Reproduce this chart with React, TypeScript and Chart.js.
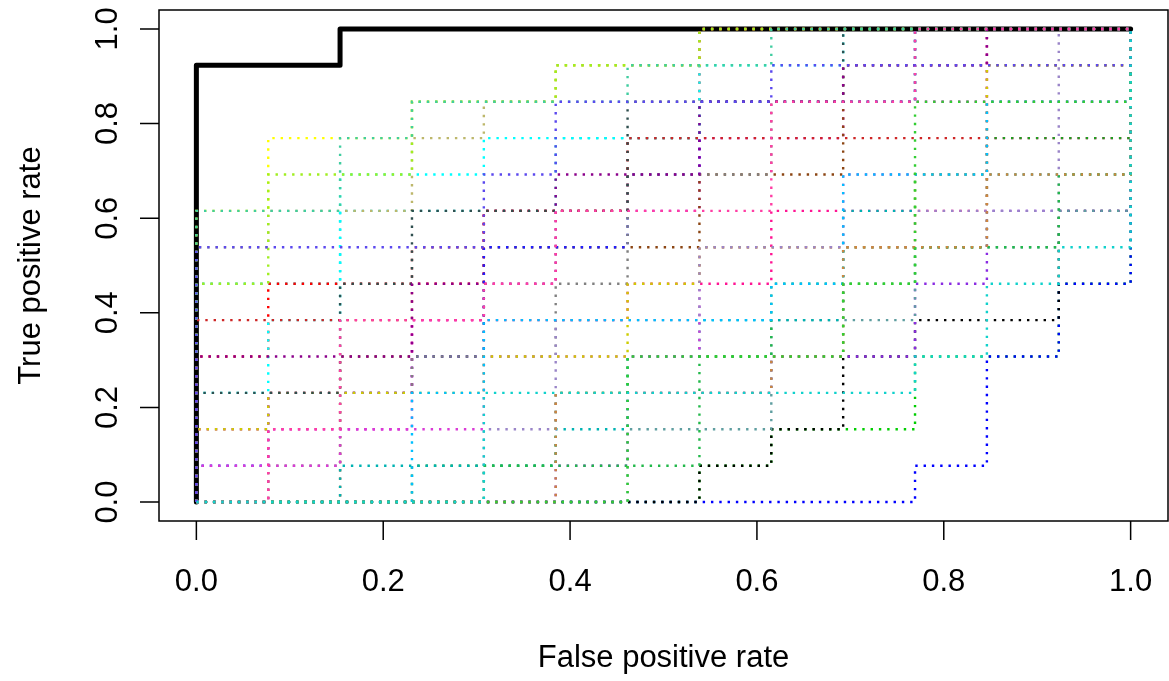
import React, { useEffect, useRef } from "react";
import { Chart, registerables } from "chart.js";

Chart.register(...registerables);

// Number of negatives / positives (grid of the ROC staircase)
const N_NEG = 13;
const N_POS = 13;

// Random-permutation ROC curves, each written as run-length steps:
// R = next negative (false positive), U = next positive (true positive)
const rocSteps: string[] = [
  "R7U1R1U1R2U2R2U2R1U7",
  "R10U1R1U3R1U2R1U7",
  "U8R1U2R2U1R2U1R2U1R6",
  "U6R2U2R3U2R2U1R3U2R3",
  "U2R3U3R1U3R3U2R2U1R4U2",
  "R2U4R2U3R3U2R2U3R4U1",
  "U4R1U2R3U2R2U2R1U3R6",
  "R7U1R1U1R1U2R1U1R2U3R1U5",
  "U1R1U2R2U1R1U3R2U2R1U2R3U2R3",
  "R1U3R2U2R3U1R2U2R3U2R2U3",
  "R3U1R2U2R1U1R3U3R2U3R2U3",
  "R5U1R1U2R2U1R2U2R1U2R2U5",
  "R6U2R2U3R2U2R2U1R1U5",
  "U7R1U1R2U2R1U1R1U1R2U1R6",
  "U3R1U2R1U4R2U1R3U2R2U1R4",
  "U5R3U2R1U1R2U2R5U3R2",
  "R1U1R1U2R1U1R2U2R1U3R2U2R2U2R3",
  "R2U1R3U1R1U2R1U1R2U3R1U1R3U4",
  "U1R2U1R2U2R3U3R2U2R2U4R2",
  "U2R1U1R3U1R2U2R1U1R3U2R1U3R2U1",
  "R4U2R1U3R2U2R3U1R2U5R1",
  "R4U1R3U3R1U2R2U1R2U2R1U4",
  "R3U3R1U2R4U1R1U3R2U2R2U2",
  "U3R2U3R1U2R3U3R3U2R4",
  "U6R1U3R2U2R2U1R2U1R6",
  "R5U3R3U1R1U3R2U2R2U4",
  "U8R2U2R1U1R3U1R2U1R5",
  "U4R3U2R2U3R2U2R2U1R2U1R2",
  "R6U4R3U2R1U5R3U2",
  "R1U2R1U3R2U1R1U2R3U3R2U2R3",
  "U7R4U2R1U2R3U1R5U1",
  "R4U3R6U1R1U2R1U1R1U6",
];

const rocColors: string[] = [
  "#00CD00", "#0000FF", "#FFFF00", "#00CDCD", "#CD00CD", "#8B4513",
  "#FF0000", "#000000", "#1E1EFF", "#FF1493", "#1E9E1E", "#8A2BE2",
  "#5F9EA0", "#BDB76B", "#00FFFF", "#CD2626", "#808080", "#00B2B2",
  "#DA3AD6", "#CDCD00", "#9A85C8", "#22B84A", "#00BFFF", "#2F4F4F",
  "#A0EE20", "#CD853F", "#40CDA0", "#8B008B", "#32CD32", "#FF3EA4",
  "#5B48EE", "#10D1CC",
];

// The bold (best) ROC curve
const bestFpr: number[] = [0, 0, 0.1538, 0.1538, 1];
const bestTpr: number[] = [0, 0.9231, 0.9231, 1, 1];

const xTickValues: number[] = [0, 0.2, 0.4, 0.6, 0.8, 1.0];
const xTickLabels: string[] = ["0.0", "0.2", "0.4", "0.6", "0.8", "1.0"];
const yTickValues: number[] = [0, 0.2, 0.4, 0.6, 0.8, 1.0];
const yTickLabels: string[] = ["0.0", "0.2", "0.4", "0.6", "0.8", "1.0"];
const xTitle = "False positive rate";
const yTitle = "True positive rate";

const FONT = "31px 'Liberation Sans', Arial, Helvetica, sans-serif";

function stepsToPoints(steps: string) {
  const pts: { x: number; y: number }[] = [{ x: 0, y: 0 }];
  let fp = 0;
  let tp = 0;
  const re = /([RU])(\d+)/g;
  let m: RegExpExecArray | null;
  while ((m = re.exec(steps)) !== null) {
    const n = parseInt(m[2], 10);
    if (m[1] === "R") fp += n;
    else tp += n;
    pts.push({ x: fp / N_NEG, y: tp / N_POS });
  }
  return pts;
}

const rAxesPlugin = {
  id: "rAxes",
  afterDraw(chart: any) {
    const { ctx, chartArea: a, scales } = chart;
    const xs = scales.x;
    const ys = scales.y;
    ctx.save();
    ctx.strokeStyle = "#000";
    ctx.lineWidth = 1.5;
    ctx.strokeRect(a.left, a.top, a.right - a.left, a.bottom - a.top);
    const TICK = 19;
    ctx.beginPath();
    xTickValues.forEach((v) => {
      const px = xs.getPixelForValue(v);
      ctx.moveTo(px, a.bottom);
      ctx.lineTo(px, a.bottom + TICK);
    });
    yTickValues.forEach((v) => {
      const py = ys.getPixelForValue(v);
      ctx.moveTo(a.left, py);
      ctx.lineTo(a.left - TICK, py);
    });
    ctx.stroke();

    ctx.fillStyle = "#000";
    ctx.font = FONT;
    ctx.textAlign = "center";
    ctx.textBaseline = "alphabetic";
    xTickValues.forEach((v, k) => {
      ctx.fillText(xTickLabels[k], xs.getPixelForValue(v), a.bottom + 70);
    });
    ctx.fillText(xTitle, (a.left + a.right) / 2, a.bottom + 146);

    yTickValues.forEach((v, k) => {
      ctx.save();
      ctx.translate(a.left - 42, ys.getPixelForValue(v));
      ctx.rotate(-Math.PI / 2);
      ctx.fillText(yTickLabels[k], 0, 0);
      ctx.restore();
    });
    ctx.save();
    ctx.translate(a.left - 119, (a.top + a.bottom) / 2);
    ctx.rotate(-Math.PI / 2);
    ctx.fillText(yTitle, 0, 0);
    ctx.restore();
    ctx.restore();
  },
};

export default function App() {
  const canvasRef = useRef<HTMLCanvasElement | null>(null);

  useEffect(() => {
    const canvas = canvasRef.current;
    if (!canvas) return;

    const datasets: any[] = [];
    datasets.push({
      label: "best",
      data: bestFpr.map((x, k) => ({ x, y: bestTpr[k] })),
      borderColor: "#000000",
      borderWidth: 5,
      borderJoinStyle: "round",
      borderCapStyle: "round",
      showLine: true,
      pointRadius: 0,
      tension: 0,
      order: 0,
    });
    rocSteps.forEach((s, k) => {
      datasets.push({
        label: "run " + (k + 1),
        data: stepsToPoints(s),
        borderColor: rocColors[k % rocColors.length],
        borderWidth: 2.4,
        borderDash: [2.4, 5.9],
        borderCapStyle: "butt",
        showLine: true,
        pointRadius: 0,
        tension: 0,
        order: -(k + 1),
      });
    });

    const chart = new Chart(canvas, {
      type: "scatter",
      data: { datasets },
      options: {
        animation: false,
        responsive: false,
        devicePixelRatio: 1,
        layout: { padding: { left: 159, top: 10, right: 1, bottom: 160 } },
        plugins: {
          legend: { display: false },
          tooltip: { enabled: false },
        },
        scales: {
          x: { type: "linear", min: -0.04, max: 1.04, display: false },
          y: { type: "linear", min: -0.04, max: 1.04, display: false },
        },
      },
      plugins: [rAxesPlugin],
    });

    return () => chart.destroy();
  }, []);

  return (
    <div style={{ position: "absolute", left: 0, top: 0, width: 1169, height: 681, background: "#fff" }}>
      <canvas ref={canvasRef} width={1169} height={681} style={{ display: "block" }} />
    </div>
  );
}
